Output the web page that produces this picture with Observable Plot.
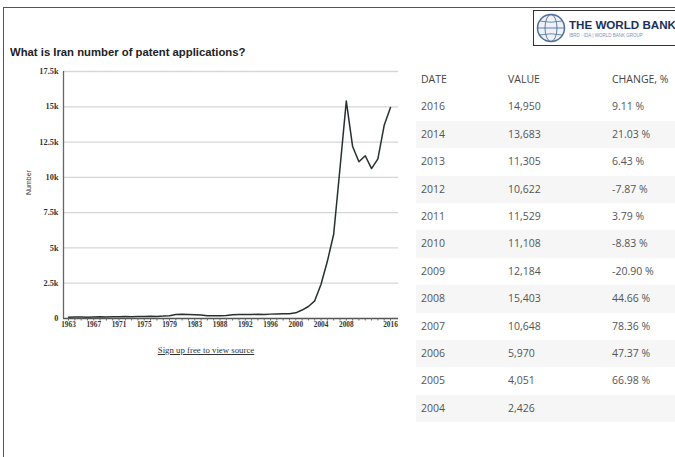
<!DOCTYPE html>
<html><head><meta charset="utf-8">
<script src="https://cdn.jsdelivr.net/npm/d3@7"></script>
<script src="https://cdn.jsdelivr.net/npm/@observablehq/plot@0.6"></script>
<style>
body{margin:0;background:#fff;}
#page{position:relative;width:675px;height:457px;overflow:hidden;font-family:"Liberation Sans",Arial,sans-serif;background:#fff;}
#frame{position:absolute;left:3px;top:7px;width:700px;height:470px;border-top:1.5px solid #555;border-left:1.5px solid #555;}
#logo{position:absolute;left:533px;top:10px;width:160px;height:34px;border:1px solid #333;background:#fff;overflow:hidden;}
#logo .name{position:absolute;left:35px;top:7px;font:bold 11.6px "Liberation Sans",Arial,sans-serif;color:#1b2f5c;white-space:nowrap;}
#logo .sub{position:absolute;left:35px;top:22px;font:4.5px "Liberation Sans",Arial,sans-serif;color:#7a94b8;white-space:nowrap;}
#title{position:absolute;left:10px;top:46px;font:bold 11.3px "Liberation Sans",Arial,sans-serif;color:#222;white-space:nowrap;}
#chart{position:absolute;left:0;top:60px;}
#signup{position:absolute;left:145px;top:345px;width:122px;text-align:center;font:8.8px "Liberation Serif",serif;color:#333;text-decoration:underline;white-space:nowrap;}
#table{position:absolute;left:416px;top:66px;width:259px;font-family:"Open Sans",sans-serif;font-size:10.5px;color:#555;}
#table .row{position:relative;height:27.4px;}
#table .row.alt{background:#f6f6f6;}
#table .row span{position:absolute;top:0;line-height:27.4px;white-space:nowrap;}
#table .hdr{color:#444;}
</style></head><body>
<div id="page">
  <div id="frame"></div>
  <div id="logo">
    <svg width="34" height="34" style="position:absolute;left:1px;top:0">
      <circle cx="16" cy="17" r="13.5" fill="#eef2f7" stroke="#4d6f99" stroke-width="1.5"/>
      <ellipse cx="16" cy="17" rx="6" ry="13.5" fill="none" stroke="#4d6f99" stroke-width="0.9"/>
      <line x1="2.5" y1="17" x2="29.5" y2="17" stroke="#4d6f99" stroke-width="0.9"/>
      <path d="M4.5 10 Q16 12.5 27.5 10 M4.5 24 Q16 21.5 27.5 24" fill="none" stroke="#4d6f99" stroke-width="0.8"/>
    </svg>
    <div class="name">THE WORLD BANK</div>
    <div class="sub">IBRD · IDA | WORLD BANK GROUP</div>
  </div>
  <div id="title">What is Iran number of patent applications?</div>
  <div id="chart"></div>
  <div id="signup">Sign up free to view source</div>
  <div id="table"></div>
</div>
<script>
// Line chart data (x = year category, y = patent applications)
const years = [1963,1964,1965,1966,1967,1968,1969,1970,1971,1972,1973,1974,1975,1976,1977,1978,1979,1980,1981,1982,1983,1984,
  1986,1987,1988,1989,1990,1991,1992,1993,1994,1995,1996,1997,1998,1999,2000,2001,2002,2003,2004,2005,2006,2007,2008,
  2009,2010,2011,2012,2013,2014,2016];
const values = [90,100,110,95,105,120,110,130,125,140,130,150,140,160,150,170,200,280,300,290,270,250,
  200,190,200,210,260,280,290,280,300,290,310,320,330,340,400,600,850,1250,2426,4051,5970,10648,15403,
  12184,11108,11529,10622,11305,13683,14950];
const xTickYears = [1963,1967,1971,1975,1979,1983,1988,1992,1996,2000,2004,2008,2016];
const yTicks = [0,2500,5000,7500,10000,12500,15000,17500];
const yTickLabels = ["0","2.5k","5k","7.5k","10k","12.5k","15k","17.5k"];

// Table data
const tableHeaders = ["DATE","VALUE","CHANGE, %"];
const tableDates = [2016,2014,2013,2012,2011,2010,2009,2008,2007,2006,2005,2004];
const tableValues = ["14,950","13,683","11,305","10,622","11,529","11,108","12,184","15,403","10,648","5,970","4,051","2,426"];
const tableChanges = ["9.11 %","21.03 %","6.43 %","-7.87 %","3.79 %","-8.83 %","-20.90 %","44.66 %","78.36 %","47.37 %","66.98 %",""];

const data = years.map((y, i) => ({year: y, value: values[i]}));

const chart = Plot.plot({
  width: 410, height: 280,
  marginTop: 11, marginBottom: 22, marginLeft: 63, marginRight: 12,
  insetLeft: 5, insetRight: 8,
  style: {fontFamily: "'Liberation Serif', serif", background: "transparent", overflow: "visible", color: "#333"},
  x: {type: "point", domain: years, padding: 0, round: false},
  y: {domain: [0, 17500]},
  marks: [
    Plot.gridY(yTicks.slice(1), {stroke: "#d6d6d6", strokeOpacity: 1, strokeWidth: 1.3}),
    Plot.line(data, {x: "year", y: "value", stroke: "#263030", strokeWidth: 1.5}),
    Plot.ruleY([0], {stroke: "#555", strokeWidth: 1.3}),
    Plot.ruleX([years[0]], {dx: -5, stroke: "#666", strokeWidth: 1.3}),
    Plot.axisX({ticks: years, tickSize: 2.5, tickFormat: () => "", stroke: "#666", label: null}),
    Plot.axisX({ticks: xTickYears, tickSize: 0, tickPadding: 3, fontSize: 7.3, fontWeight: "bold", fill: "#333",
      tickFormat: d => String(d), label: null}),
    Plot.axisY({ticks: yTicks, tickSize: 0, tickPadding: 5, fontSize: 8.3, fontWeight: "bold", fill: "#333",
      tickFormat: d => yTickLabels[yTicks.indexOf(d)], label: null}),
    Plot.text(["Number"], {frameAnchor: "left", rotate: -90, dx: -35, fontSize: 7, fill: "#333", fontFamily: "'Liberation Sans', sans-serif"})
  ]
});
document.getElementById("chart").appendChild(chart);

// Build table
const tbl = document.getElementById("table");
const colX = [5, 92, 196];
function addRow(cells, cls) {
  const r = document.createElement("div");
  r.className = "row " + (cls || "");
  cells.forEach((c, j) => {
    const s = document.createElement("span");
    s.style.left = colX[j] + "px";
    s.textContent = c;
    r.appendChild(s);
  });
  tbl.appendChild(r);
}
addRow(tableHeaders, "hdr");
tableDates.forEach((d, i) => addRow([String(d), tableValues[i], tableChanges[i]], i % 2 === 1 ? "alt" : ""));
</script>
</body></html>
